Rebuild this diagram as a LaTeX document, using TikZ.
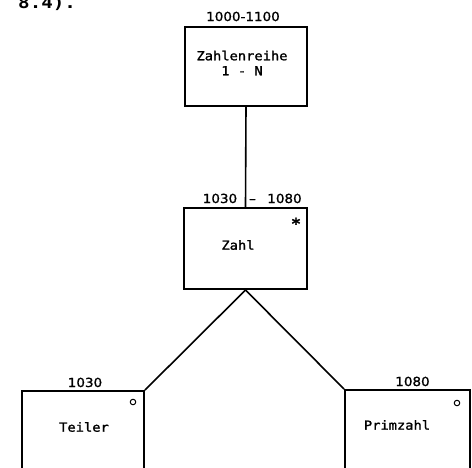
\documentclass[tikz,border=0pt]{standalone}
\usepackage{fontspec}
\newfontfamily\boxfont[FakeStretch=1.1,FakeBold=1.6]{DejaVu Sans Mono}
\newfontfamily\numfont[FakeStretch=1.08,FakeBold=1.2]{DejaVu Sans}
\newfontfamily\headfont[FakeStretch=1.2]{DejaVu Sans Mono}
\begin{document}
\begin{tikzpicture}[x=1pt,y=-1pt,
  box/.style={draw, line width=2pt, inner sep=0pt, rectangle},
  boxtext/.style={font=\boxfont\fontsize{12.5}{15}\selectfont, inner sep=0pt, align=center},
  num/.style={font=\numfont\fontsize{12.5}{14}\selectfont, inner sep=0pt, anchor=base},
  conn/.style={line width=1.6pt},
  ring/.style={circle, draw, line width=1pt, minimum size=5.5pt, inner sep=0pt}]
\useasboundingbox (0,0) rectangle (472,467);
\fill[white] (0,0) rectangle (472,467);
% heading fragment
\node[font=\headfont\bfseries\fontsize{16}{18}\selectfont, inner sep=0pt, anchor=base west] (head) at (18,8) {8.4).};
% boxes
\node[box, minimum width=122pt, minimum height=79pt] (reihe) at (246,66) {};
\node[box, minimum width=123pt, minimum height=81pt] (zahl) at (245.5,248.5) {};
\node[box, minimum width=122pt, minimum height=110pt] (teiler) at (83,446) {};
\node[box, minimum width=125pt, minimum height=110pt] (prim) at (407.5,445) {};
% box texts
\node[boxtext] (treihe) at (242,63) {Zahlenreihe\\1 - N};
\node[boxtext] (tzahl) at (238,245) {Zahl};
\node[boxtext] (tteiler) at (84,427) {Teiler};
\node[boxtext] (tprim) at (397,425) {Primzahl};
% connectors
\draw[conn] (reihe.south) -- (zahl.north);
\draw[conn] (zahl.south) -- (teiler.north east);
\draw[conn] (zahl.south) -- (prim.north west);
% numbers
\node[num] (n1) at (243,21) {1000-1100};
\node[num] (n2) at (220,203) {1030};
\node[num] (ndash) at (252.5,203) {–};
\node[num] (n3) at (284.5,203) {1080};
\node[num] (n4) at (85,387) {1030};
\node[num] (n5) at (412.5,386) {1080};
% markers
\node[font=\boxfont\bfseries\fontsize{15}{15}\selectfont, inner sep=0pt, anchor=base] (star) at (296,229) {*};
\node[ring] (o1) at (133,402) {};
\node[ring] (o2) at (457,403) {};
\end{tikzpicture}
\end{document}
